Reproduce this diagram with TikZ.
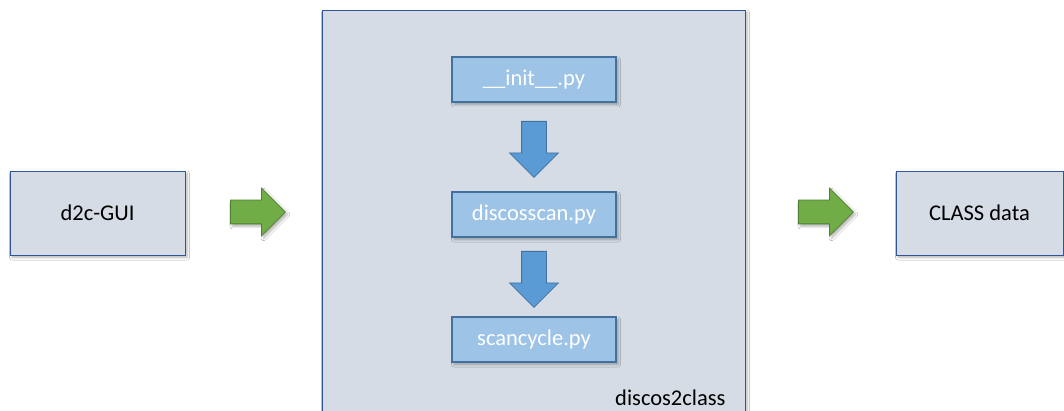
\documentclass[tikz,border=0pt]{standalone}
\usepackage{fontspec}
\setmainfont{Carlito}
\usetikzlibrary{shapes.arrows,shadows.blur}

\definecolor{paneFill}{HTML}{D6DCE5}
\definecolor{paneLine}{HTML}{2F5597}
\definecolor{fileFill}{HTML}{9DC3E6}
\definecolor{fileLine}{HTML}{41719C}
\definecolor{flowBlue}{HTML}{5B9BD5}
\definecolor{flowGreen}{HTML}{70AD47}
\definecolor{flowGreenLine}{HTML}{507E32}

\tikzset{
  softshadow/.style={blur shadow={shadow xshift=2pt,shadow yshift=-2.5pt,
      shadow blur steps=6,shadow blur radius=2.5pt,shadow opacity=30}},
  labeltext/.style={font=\fontsize{22.5}{27}\selectfont},
  pane/.style={draw=paneLine,line width=0.9pt,fill=paneFill,inner sep=0pt},
  extbox/.style={pane,softshadow,labeltext,text=black,
      minimum width=175pt,minimum height=84pt},
  filebox/.style={draw=fileLine,line width=1.2pt,fill=fileFill,softshadow,
      labeltext,text=white,inner sep=0pt,minimum width=164pt,minimum height=45pt},
  greenflow/.style={single arrow,draw=flowGreenLine,line width=0.8pt,
      fill=flowGreen,softshadow,inner sep=11.5pt,single arrow head extend=12pt,
      minimum width=47pt,minimum height=55pt,anchor=tail},
  blueflow/.style={single arrow,draw=fileLine,line width=0.8pt,fill=flowBlue,
      inner sep=12pt,single arrow head extend=12pt,shape border rotate=270,
      minimum width=48pt,minimum height=56pt,anchor=tail},
}

\begin{document}
\begin{tikzpicture}[x=1pt,y=-1pt]
  \useasboundingbox (0,0) rectangle (1064,411);
  \clip (0,0) rectangle (1064,411);
  \fill[white] (0,0) rectangle (1064,411);

  % the package frame, running past the lower edge
  \node[pane,softshadow,minimum width=423pt,minimum height=430pt] (pkg) at (533.5,225) {};
  \node[labeltext,anchor=base east] (pkgname) at (729,405) {discos2class};

  % modules inside the package
  \node[filebox] (init) at (534,79.5) {\_\_init\_\_.py};
  \node[filebox] (scan) at (534,214.5) {discosscan.py};
  \node[filebox] (cycle) at (534,339.5) {scancycle.py};

  % flow between the modules
  \node[blueflow] (a1) at (534,121) {};
  \node[blueflow] (a2) at (534,251) {};

  % input and output
  \node[extbox] (gui) at (97.5,213) {d2c-GUI};
  \node[extbox,minimum width=167pt] (data) at (979.5,213) {CLASS data};

  \node[greenflow] (g1) at (230,212) {};
  \node[greenflow] (g2) at (798,212) {};
\end{tikzpicture}
\end{document}
